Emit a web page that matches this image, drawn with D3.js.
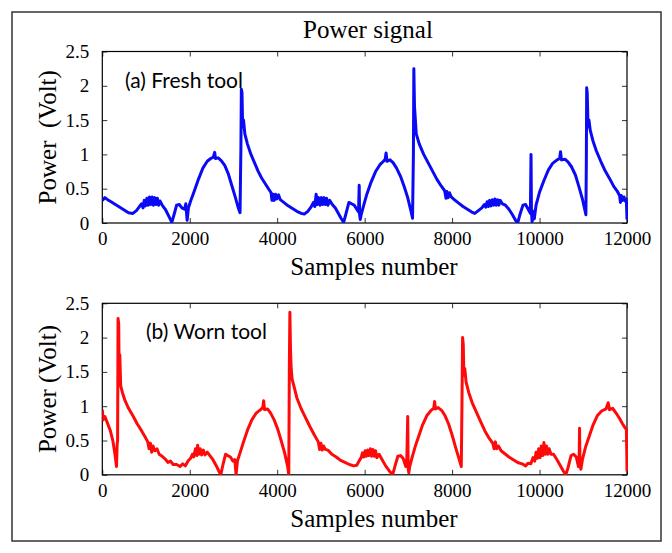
<!DOCTYPE html>
<html>
<head>
<meta charset="utf-8">
<script src="https://cdn.jsdelivr.net/npm/d3@7"></script>
<style>
  body { margin: 0; background: #fff; }
  svg { display: block; }
</style>
</head>
<body>
<div id="chart"></div>
<script>
// Power signal, fresh tool vs worn tool: [sample, volts]
const freshTool = [
  [0,0.33],[60,0.37],[120,0.34],[200,0.31],[300,0.27],[400,0.23],[500,0.19],[600,0.15],[700,0.14],[780,0.18],
  [850,0.24],[900,0.28],[930,0.22],[960,0.33],[990,0.25],[1020,0.36],[1050,0.26],[1080,0.38],[1110,0.27],[1140,0.38],
  [1170,0.26],[1200,0.37],[1230,0.27],[1260,0.36],[1290,0.26],[1320,0.32],[1380,0.25],[1450,0.19],[1520,0.1],[1590,0.01],
  [1640,0.12],[1700,0.26],[1760,0.27],[1820,0.22],[1880,0.2],[1910,0.28],[1940,0.04],[1970,0.22],[2020,0.32],[2100,0.46],
  [2200,0.64],[2300,0.8],[2400,0.9],[2480,0.94],[2540,0.96],[2570,1.03],[2590,0.94],[2650,0.95],[2720,0.91],[2800,0.84],
  [2880,0.72],[2960,0.55],[3040,0.38],[3110,0.22],[3150,0.15],[3170,1.1],[3180,1.95],[3195,1.9],[3210,1.4],[3230,1.5],
  [3260,1.3],[3320,1.15],[3400,1.0],[3480,0.88],[3560,0.76],[3640,0.66],[3720,0.58],[3800,0.5],[3860,0.44],[3880,0.33],
  [3900,0.42],[3930,0.33],[3960,0.42],[3990,0.35],[4030,0.41],[4070,0.34],[4150,0.3],[4250,0.25],[4350,0.21],[4450,0.17],
  [4550,0.14],[4620,0.13],[4700,0.17],[4780,0.24],[4830,0.3],[4860,0.24],[4890,0.42],[4920,0.27],[4950,0.37],[4980,0.26],
  [5010,0.37],[5040,0.27],[5070,0.37],[5100,0.27],[5130,0.36],[5160,0.26],[5200,0.33],[5260,0.27],[5330,0.22],[5400,0.14],
  [5460,0.07],[5520,0.01],[5570,0.13],[5640,0.3],[5700,0.28],[5760,0.26],[5820,0.2],[5860,0.16],[5875,0.55],[5885,0.12],
  [5900,0.05],[5920,0.12],[5970,0.24],[6050,0.42],[6150,0.6],[6250,0.75],[6350,0.85],[6430,0.9],[6470,0.93],[6490,1.02],
  [6510,0.9],[6580,0.92],[6650,0.88],[6730,0.8],[6820,0.68],[6900,0.54],[6980,0.38],[7050,0.2],[7095,0.07],[7115,1.0],
  [7125,2.25],[7140,1.7],[7160,1.5],[7180,1.3],[7250,1.15],[7350,1.0],[7450,0.88],[7550,0.76],[7650,0.64],[7750,0.54],
  [7830,0.47],[7860,0.36],[7880,0.46],[7910,0.37],[7940,0.44],[7980,0.38],[8050,0.34],[8150,0.29],[8250,0.24],[8350,0.2],
  [8450,0.16],[8520,0.14],[8600,0.18],[8680,0.22],[8740,0.27],[8770,0.23],[8800,0.31],[8830,0.24],[8860,0.33],[8890,0.25],
  [8920,0.34],[8950,0.26],[8980,0.35],[9010,0.26],[9040,0.34],[9070,0.26],[9100,0.33],[9150,0.28],[9220,0.26],[9300,0.2],
  [9380,0.12],[9450,0.04],[9500,0.0],[9550,0.12],[9620,0.26],[9680,0.27],[9740,0.2],[9790,0.14],[9805,1.0],[9815,0.15],
  [9830,0.02],[9850,0.17],[9880,0.06],[9920,0.26],[10000,0.45],[10100,0.62],[10200,0.77],[10300,0.87],[10400,0.92],[10460,0.94],
  [10480,1.04],[10500,0.92],[10580,0.93],[10650,0.89],[10730,0.82],[10820,0.7],[10900,0.53],[10980,0.35],[11040,0.18],[11060,0.12],
  [11070,0.9],[11078,1.97],[11090,1.9],[11110,1.4],[11130,1.5],[11160,1.35],[11220,1.2],[11300,1.05],[11400,0.9],[11500,0.76],
  [11600,0.65],[11700,0.53],[11780,0.46],[11830,0.4],[11850,0.3],[11870,0.4],[11900,0.33],[11930,0.38],[11960,0.32],[11985,0.35],
  [11995,0.15],[12000,0.05]
];

const wornTool = [
  [0,0.95],[20,0.8],[60,0.85],[120,0.75],[180,0.65],[240,0.5],[290,0.3],[325,0.12],[340,0.45],[350,0.5],
  [360,2.28],[375,2.2],[385,1.5],[400,1.75],[420,1.3],[460,1.2],[520,1.08],[600,0.97],[700,0.86],[800,0.74],
  [900,0.64],[980,0.55],[1040,0.48],[1070,0.38],[1100,0.46],[1130,0.33],[1160,0.42],[1200,0.35],[1250,0.38],[1300,0.3],
  [1370,0.27],[1440,0.23],[1500,0.18],[1560,0.2],[1620,0.15],[1700,0.15],[1780,0.12],[1840,0.16],[1900,0.13],[1960,0.2],
  [2020,0.24],[2060,0.3],[2090,0.26],[2130,0.38],[2160,0.28],[2180,0.43],[2210,0.3],[2240,0.38],[2270,0.29],[2310,0.36],
  [2350,0.29],[2400,0.33],[2460,0.28],[2530,0.22],[2600,0.14],[2660,0.06],[2710,0.0],[2760,0.15],[2820,0.3],[2870,0.28],
  [2930,0.26],[2990,0.2],[3030,0.22],[3060,0.0],[3090,0.2],[3150,0.32],[3230,0.48],[3320,0.65],[3420,0.8],[3520,0.9],
  [3620,0.95],[3670,0.98],[3690,1.08],[3710,0.95],[3780,0.96],[3850,0.9],[3930,0.8],[4010,0.67],[4090,0.5],[4170,0.32],
  [4240,0.12],[4265,0.0],[4278,1.6],[4290,2.37],[4305,1.8],[4320,1.55],[4340,1.4],[4380,1.3],[4450,1.12],[4550,0.96],
  [4650,0.83],[4750,0.7],[4850,0.58],[4940,0.48],[4970,0.37],[5000,0.46],[5030,0.36],[5060,0.42],[5100,0.37],[5160,0.36],
  [5250,0.3],[5350,0.26],[5450,0.21],[5550,0.18],[5650,0.15],[5750,0.13],[5820,0.14],[5870,0.2],[5920,0.25],[5950,0.32],
  [5980,0.26],[6010,0.35],[6040,0.27],[6070,0.36],[6100,0.28],[6130,0.38],[6160,0.27],[6190,0.37],[6220,0.27],[6250,0.35],
  [6280,0.25],[6330,0.3],[6400,0.22],[6480,0.13],[6560,0.06],[6640,0.0],[6700,0.14],[6760,0.27],[6820,0.28],[6880,0.24],
  [6940,0.12],[6965,0.25],[6985,0.85],[6995,0.1],[7010,0.03],[7030,0.12],[7080,0.24],[7150,0.4],[7230,0.55],[7320,0.72],
  [7420,0.86],[7520,0.94],[7580,0.97],[7600,1.07],[7620,0.96],[7680,0.98],[7760,0.94],[7840,0.86],[7920,0.74],[8000,0.58],
  [8080,0.4],[8150,0.25],[8210,0.12],[8225,1.0],[8240,2.0],[8255,1.9],[8270,1.45],[8290,1.55],[8320,1.35],[8380,1.2],
  [8460,1.05],[8550,0.92],[8650,0.78],[8750,0.64],[8850,0.53],[8930,0.46],[8960,0.38],[8990,0.48],[9020,0.38],[9060,0.42],
  [9120,0.35],[9200,0.31],[9300,0.26],[9400,0.22],[9500,0.18],[9600,0.16],[9680,0.13],[9740,0.17],[9800,0.16],[9850,0.25],
  [9890,0.2],[9920,0.33],[9950,0.24],[9980,0.38],[10010,0.25],[10040,0.42],[10070,0.28],[10100,0.47],[10130,0.3],[10160,0.42],
  [10190,0.3],[10220,0.38],[10260,0.3],[10320,0.3],[10400,0.22],[10470,0.14],[10540,0.06],[10600,0.0],[10650,0.1],[10720,0.28],
  [10780,0.3],[10840,0.26],[10890,0.12],[10905,0.2],[10915,0.68],[10925,0.15],[10945,0.08],[10980,0.22],[11050,0.4],[11130,0.55],
  [11220,0.72],[11320,0.86],[11420,0.93],[11520,0.96],[11570,1.05],[11600,0.95],[11670,0.97],[11750,0.9],[11830,0.82],[11900,0.74],
  [11960,0.68],[11985,0.67],[11995,0.3],[12000,0.05]
];

const xTicks = [0, 2000, 4000, 6000, 8000, 10000, 12000];
const yTicks = [0, 0.5, 1, 1.5, 2, 2.5];
const yTickLabels = ["0", "0.5", "1", "1.5", "2", "2.5"];

const panels = [
  { data: freshTool, color: "#0a0af5", label: "(a) Fresh tool", yTitle: "Power  (Volt)", top: 51.5, labelX: 125 },
  { data: wornTool, color: "#ff0a0a", label: "(b) Worn tool", yTitle: "Power (Volt)", top: 303.3, labelX: 146 }
];

const width = 672, height = 553;
const plotLeft = 102.3, plotRight = 627, plotH = 171.5;
const serif = "'Liberation Serif', 'Times New Roman', serif";

const svg = d3.select("#chart").append("svg")
  .attr("width", width)
  .attr("height", height);

// outer frame
svg.append("rect")
  .attr("x", 12).attr("y", 12)
  .attr("width", 649).attr("height", 529)
  .attr("fill", "none")
  .attr("stroke", "#333")
  .attr("stroke-width", 1.5);

svg.append("text")
  .attr("x", 368).attr("y", 38)
  .attr("text-anchor", "middle")
  .style("font-family", serif)
  .style("font-size", "25px")
  .text("Power signal");

const x = d3.scaleLinear().domain([0, 12000]).range([plotLeft, plotRight]);

panels.forEach((p, i) => {
  const y = d3.scaleLinear().domain([0, 2.5]).range([p.top + plotH, p.top]);
  const g = svg.append("g");

  // inward ticks on all four sides
  g.append("g")
    .attr("transform", `translate(0,${p.top + plotH})`)
    .call(d3.axisBottom(x).tickValues(xTicks).tickSizeInner(-5).tickSizeOuter(0).tickPadding(9)
      .tickFormat(d3.format("d")))
    .call(a => a.selectAll("text").style("font-family", serif).style("font-size", "19px").attr("fill", "#000"));
  g.append("g")
    .attr("transform", `translate(0,${p.top})`)
    .call(d3.axisTop(x).tickValues(xTicks).tickSizeInner(-5).tickSizeOuter(0).tickFormat(""));
  g.append("g")
    .attr("transform", `translate(${plotLeft},0)`)
    .call(d3.axisLeft(y).tickValues(yTicks).tickSizeInner(-5).tickSizeOuter(0).tickPadding(13)
      .tickFormat((d, k) => yTickLabels[k]))
    .call(a => a.selectAll("text").style("font-family", serif).style("font-size", "19px").attr("fill", "#000"));
  g.append("g")
    .attr("transform", `translate(${plotRight},0)`)
    .call(d3.axisRight(y).tickValues(yTicks).tickSizeInner(-5).tickSizeOuter(0).tickFormat(""));
  g.selectAll(".domain").remove();
  g.selectAll(".tick line").attr("stroke", "#333");

  g.append("rect")
    .attr("x", plotLeft).attr("y", p.top)
    .attr("width", plotRight - plotLeft).attr("height", plotH)
    .attr("fill", "none").attr("stroke", "#000").attr("stroke-width", 1.2);

  const clipId = "clip" + i;
  svg.append("clipPath").attr("id", clipId)
    .append("rect")
    .attr("x", plotLeft).attr("y", p.top - 2)
    .attr("width", plotRight - plotLeft + 1).attr("height", plotH + 2);

  const line = d3.line().x(d => x(d[0])).y(d => y(d[1]));
  g.append("path")
    .datum(p.data)
    .attr("clip-path", `url(#${clipId})`)
    .attr("d", line)
    .attr("fill", "none")
    .attr("stroke", p.color)
    .attr("stroke-width", 3)
    .attr("stroke-linejoin", "round");

  g.append("text")
    .attr("x", p.labelX).attr("y", p.top + 36)
    .style("font-family", "Lato, 'Open Sans', sans-serif")
    .style("font-size", "21px")
    .text(p.label);

  g.append("text")
    .attr("transform", `translate(56,${p.top + plotH / 2}) rotate(-90)`)
    .attr("text-anchor", "middle")
    .style("white-space", "pre")
    .style("font-family", serif)
    .style("font-size", "25px")
    .text(p.yTitle);

  g.append("text")
    .attr("x", 374).attr("y", p.top + plotH + 52)
    .attr("text-anchor", "middle")
    .style("font-family", serif)
    .style("font-size", "25px")
    .text("Samples number");
});
</script>
</body>
</html>
